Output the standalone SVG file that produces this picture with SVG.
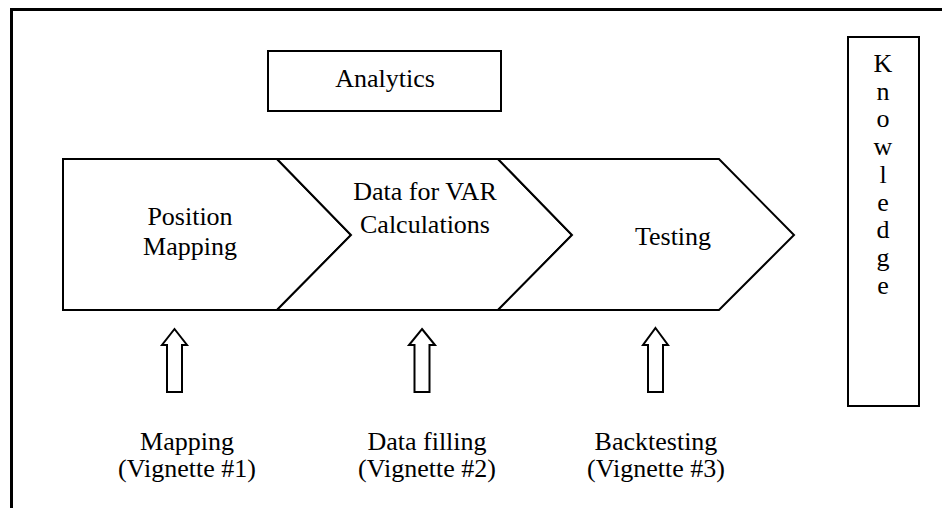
<svg xmlns="http://www.w3.org/2000/svg" width="942" height="508" viewBox="0 0 942 508">
<style>
.t{font-family:"Liberation Serif","Times New Roman",serif;font-size:26px;fill:#000;text-anchor:middle}
.s{fill:#fff;stroke:#000;stroke-width:2}
.a{fill:#fff;stroke:#000;stroke-width:2;stroke-linejoin:miter}
</style>
<rect width="942" height="508" fill="#fff"/>
<g id="frame"><polyline points="11.5,508 11.5,9.5 942,9.5" fill="none" stroke="#000" stroke-width="3"/></g>
<g id="analytics"><rect class="s" x="268" y="51" width="233" height="60"/><text class="t" x="385" y="87">Analytics</text></g>
<g id="knowledge"><rect class="s" x="848" y="37" width="71" height="369"/>
<text class="t" x="883" y="72">K</text><text class="t" x="883" y="100">n</text><text class="t" x="883" y="127">o</text><text class="t" x="883" y="155">w</text><text class="t" x="883" y="183">l</text><text class="t" x="883" y="211">e</text><text class="t" x="883" y="238">d</text><text class="t" x="883" y="266">g</text><text class="t" x="883" y="294">e</text></g>
<g id="position-mapping"><polygon class="s" points="63,159 277,159 351,235 277,310 63,310"/><text class="t" x="190" y="225">Position</text><text class="t" x="190" y="255">Mapping</text></g>
<g id="data-var"><polygon class="s" points="277,159 498,159 572,235 498,310 277,310 351,235"/><text class="t" x="425" y="200">Data for VAR</text><text class="t" x="425" y="233">Calculations</text></g>
<g id="testing"><polygon class="s" points="498,159 719,159 794,235 719,310 498,310 572,235"/><text class="t" x="673" y="245">Testing</text></g>
<g id="connectors">
<polygon class="a" points="174.5,329 187,345 182,345 182,392 167,392 167,345 162,345"/>
<polygon class="a" points="422,329 435,345 429.5,345 429.5,392 414.5,392 414.5,345 409,345"/>
<polygon class="a" points="655.5,328 668,345 663,345 663,392 648,392 648,345 643,345"/>
</g>
<g id="mapping-v1"><text class="t" x="187" y="450">Mapping</text><text class="t" x="187" y="477">(Vignette #1)</text></g>
<g id="datafilling-v2"><text class="t" x="427" y="450">Data filling</text><text class="t" x="427" y="477">(Vignette #2)</text></g>
<g id="backtesting-v3"><text class="t" x="656" y="450">Backtesting</text><text class="t" x="656" y="477">(Vignette #3)</text></g>
</svg>
